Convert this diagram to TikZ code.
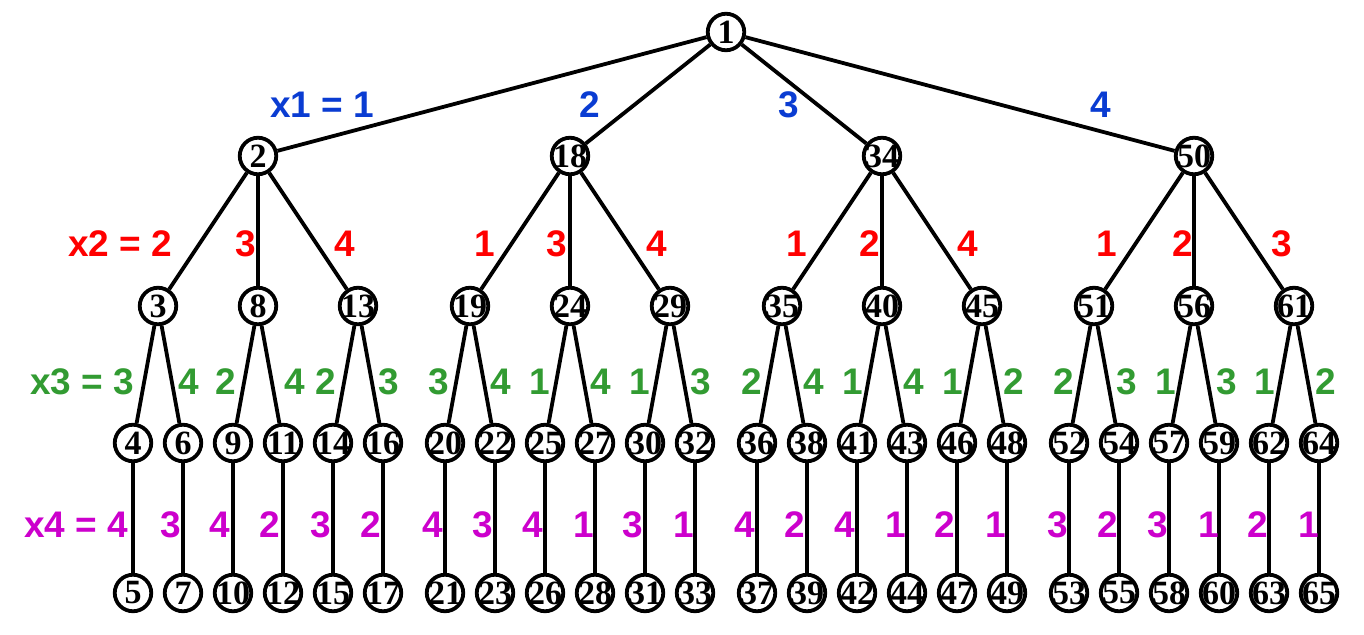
\documentclass[tikz,border=0pt]{standalone}
\usepackage{fontspec}
\newfontfamily\labfont{Liberation Sans}
\newfontfamily\numfont{Liberation Serif}
\definecolor{cblue}{RGB}{10,60,210}
\definecolor{cred}{RGB}{255,0,0}
\definecolor{cgreen}{RGB}{50,155,50}
\definecolor{cmag}{RGB}{204,0,204}
\tikzset{
  nd/.style={circle,draw=black,line width=3.8pt,minimum size=36.5pt,inner sep=0pt,
    font=\numfont\bfseries\fontsize{34}{36}\selectfont},
  lab/.style={inner sep=0pt,font=\labfont\bfseries\fontsize{37}{40}\selectfont},
  edge/.style={line width=3.8pt,line cap=butt}
}
\begin{document}
\begin{tikzpicture}[x=1pt,y=-1pt]
\useasboundingbox (0,0) rectangle (1364,634);
\node[nd] (n1) at (726,32) {\makebox[0pt]{1}};
\foreach \i in {0,...,3} {
  \pgfmathtruncatemacro\a{2+16*\i}
  \pgfmathsetmacro\ax{258+312*\i}
  \node[nd] (n\a) at (\ax,156) {\makebox[0pt]{\a}};
  \draw[edge] (n1) -- (n\a);
  \foreach \j in {0,1,2} {
    \pgfmathtruncatemacro\b{\a+1+5*\j}
    \pgfmathsetmacro\bx{\ax-100+100*\j}
    \node[nd] (n\b) at (\bx,306) {\makebox[0pt]{\b}};
    \draw[edge] (n\a) -- (n\b);
    \foreach \k in {0,1} {
      \pgfmathtruncatemacro\c{\b+1+2*\k}
      \pgfmathtruncatemacro\d{\c+1}
      \pgfmathsetmacro\cx{\bx-25+50*\k}
      \node[nd] (n\c) at (\cx,443) {\makebox[0pt]{\c}};
      \node[nd] (n\d) at (\cx,593) {\makebox[0pt]{\d}};
      \draw[edge] (n\b) -- (n\c);
      \draw[edge] (n\c) -- (n\d);
    }
  }
}
% x1 labels
\begin{scope}[every node/.style={lab,text=cblue}]
\node (b1) at (364,105) {\llap{x1 = }1};
\node (b2) at (590,105) {2};
\node (b3) at (789,105) {3};
\node (b4) at (1101,105) {4};
\end{scope}
% x2 labels
\begin{scope}[every node/.style={lab,text=cred}]
\foreach \x/\t [count=\n] in {162/{\llap{x2 = }2},245.5/3,345/4,484.5/1,557/3,657/4,796.5/1,870/2,968/4,1106.5/1,1183/2,1282/3}
  \node (r\n) at (\x,244) {\t};
\end{scope}
% x3 labels
\begin{scope}[every node/.style={lab,text=cgreen}]
\foreach \x/\t [count=\n] in {124/{\llap{x3 = }3},189/4,226/2,295/4,326/2,389/3,439/3,501/4,539.5/1,601/4,639.5/1,701/3,752/2,814/4,952.5/1,1014/2,1064/2,1126.5/3,1165.5/1,1227/3,1264.5/1,1326/2}
  \node (g\n) at (\x,382) {\t};
\node (g99) at (852.5,382) {1};
\node (g98) at (914,382) {4};
\end{scope}
% x4 labels
\begin{scope}[every node/.style={lab,text=cmag}]
\foreach \x/\t [count=\n] in {118/{\llap{x4 = }4},171/3,220/4,270/2,321/3,371/2,433/4,483/3,533/4,583.5/1,632.5/3,683.5/1,745/4,795/2,845/4,895.5/1,945/2,995.5/1,1058/3,1108/2,1158/3,1208.5/1,1258/2,1308.5/1}
  \node (m\n) at (\x,525) {\t};
\end{scope}
\end{tikzpicture}
\end{document}
